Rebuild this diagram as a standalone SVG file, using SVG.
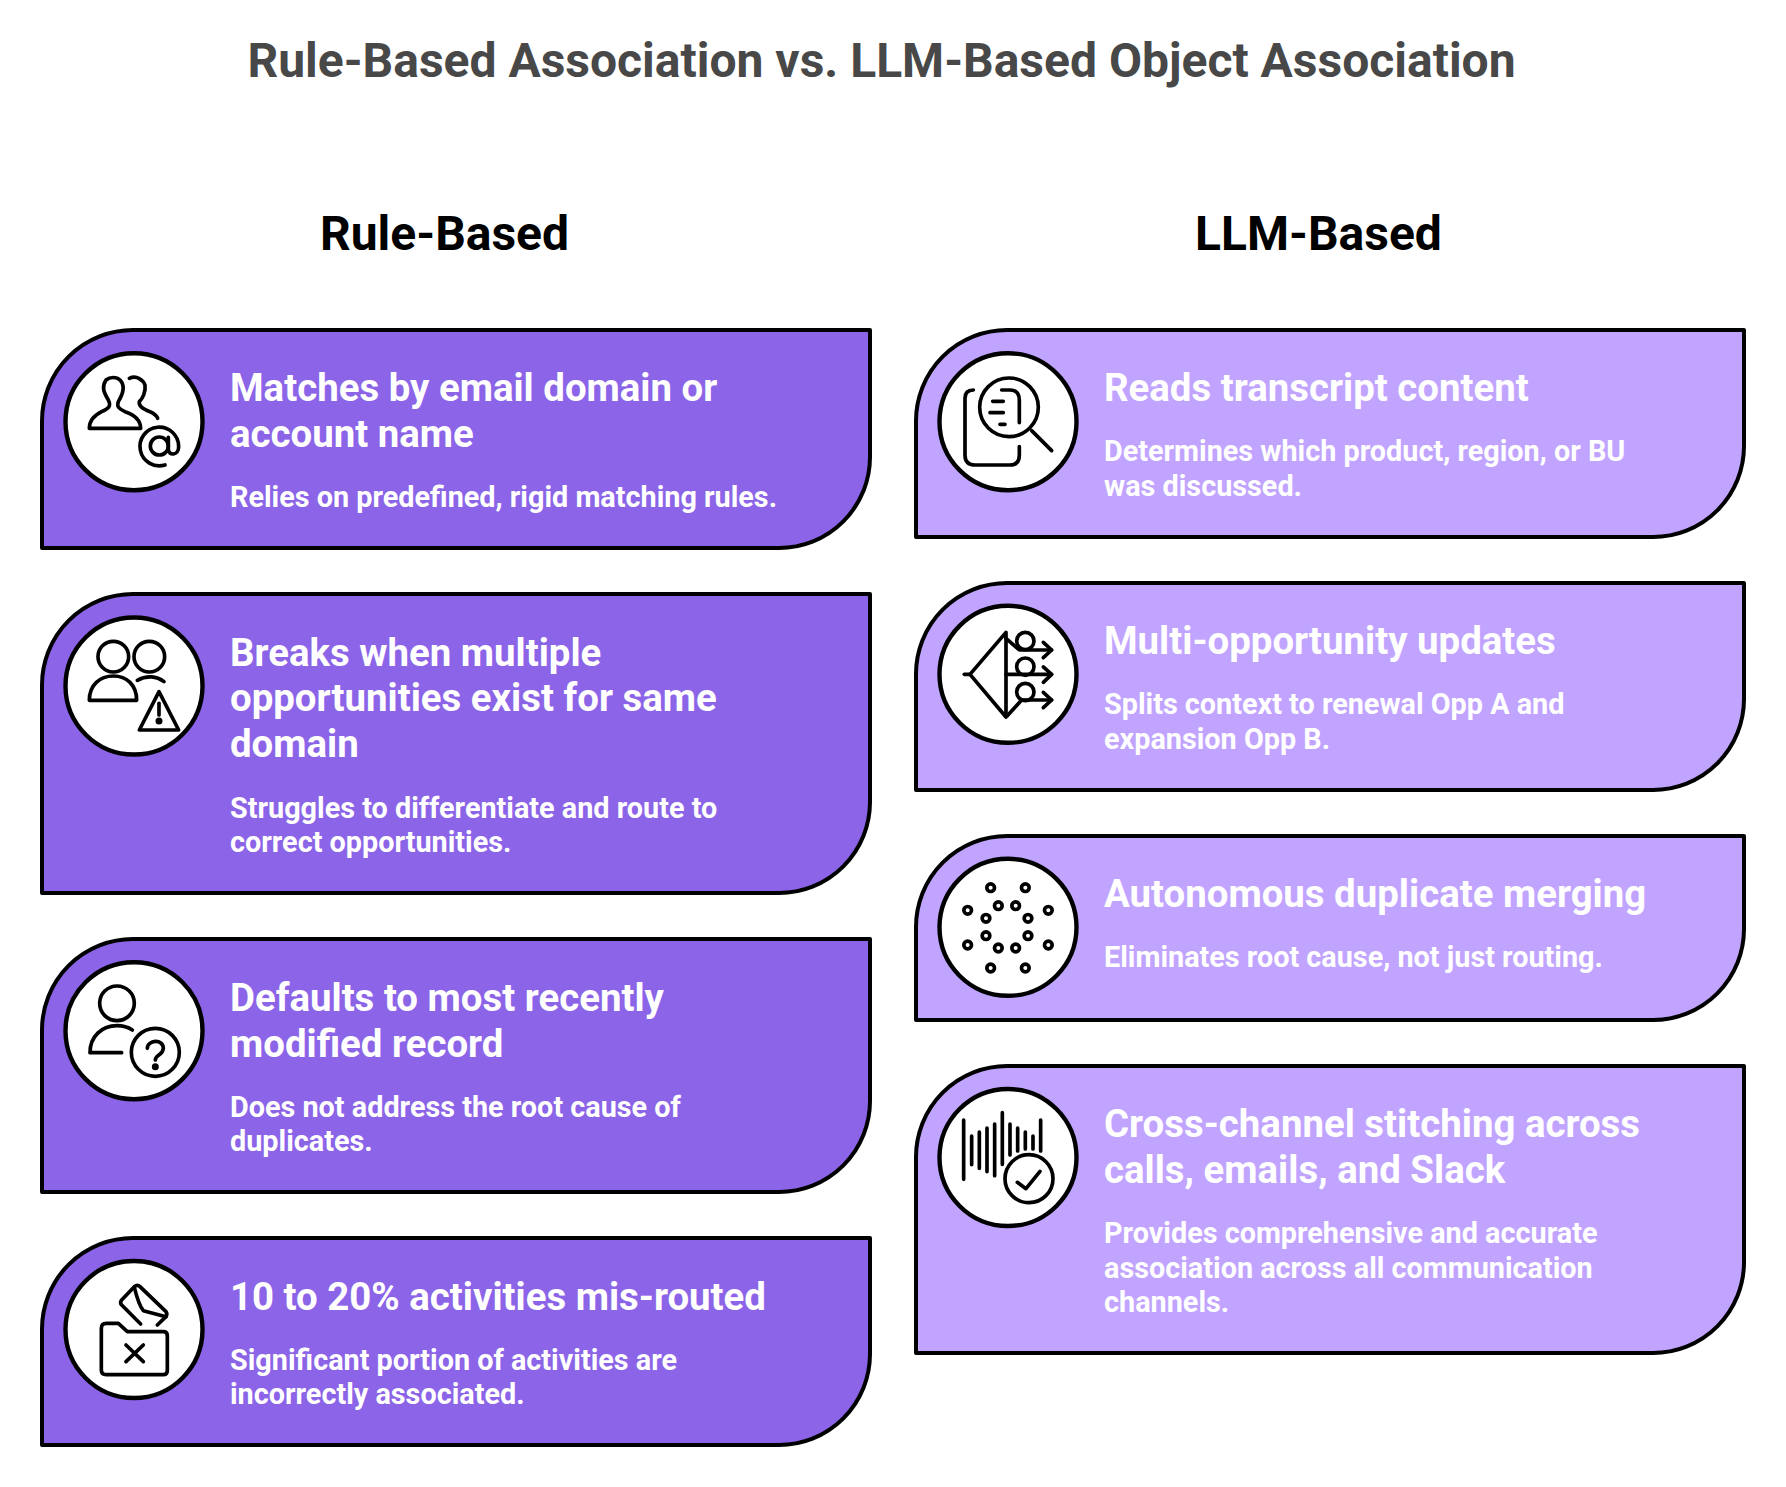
<svg xmlns="http://www.w3.org/2000/svg" width="1786" height="1487" viewBox="0 0 1786 1487">
<style>
text{font-family:Roboto,"Liberation Sans",sans-serif}
.title{font-size:48px;font-weight:700;fill:#484848;text-anchor:middle}
.col{font-size:48px;font-weight:700;fill:#000;text-anchor:middle}
.h{font-size:38.4px;font-weight:700;fill:#fff}
.d{font-size:28.8px;font-weight:700;fill:#fff}
.cl{fill:#8C64E8;stroke:#000;stroke-width:4;stroke-linejoin:round}
.cr{fill:#C1A4FF;stroke:#000;stroke-width:4;stroke-linejoin:round}
.o{fill:#fff;stroke:#000;stroke-width:4.4}
.i{fill:none;stroke:#000;stroke-width:11;stroke-linecap:round;stroke-linejoin:round}
.f{fill:#000}
</style>
<rect width="1786" height="1487" fill="#fff"/>
<text class="title" x="881.5" y="77">Rule-Based Association vs. LLM-Based Object Association</text>
<text class="col" x="444.5" y="249.5">Rule-Based</text>
<text class="col" x="1318.5" y="249.5">LLM-Based</text>

<g id="rule-1">
<path class="cl" d="M42 548V421A91 91 0 0 1 133 330H870V457A91 91 0 0 1 779 548Z"/>
<circle class="o" cx="134" cy="421.7" r="68.5"/>
<g class="i" transform="translate(40,330) scale(.3333)">
<path d="M148 295H302C302 270 285 255 255 245C235 235 230 230 235 215C250 190 255 165 240 150C230 140 210 140 198 150C185 170 190 185 205 210C215 230 205 235 185 245C165 255 148 270 148 295Z"/>
<path d="M268 145C290 135 310 150 315 165C318 185 308 205 298 215C295 230 310 238 330 245C340 250 350 255 353 265"/>
<circle cx="358" cy="348" r="27"/>
<path d="M375 405A58 58 0 1 1 416 350C416 378 385 378 385 358V322"/>
</g>
<text class="h" x="230" y="401">Matches by email domain or</text>
<text class="h" x="230" y="446.5">account name</text>
<text class="d" x="230" y="507">Relies on predefined, rigid matching rules.</text>
</g>

<g id="rule-2">
<path class="cl" d="M42 893V685A91 91 0 0 1 133 594H870V802A91 91 0 0 1 779 893Z"/>
<circle class="o" cx="134" cy="686" r="68.5"/>
<g class="i" transform="translate(40,595) scale(.3333)">
<circle cx="220" cy="185" r="46"/>
<circle cx="328" cy="185" r="46"/>
<path d="M148 316H290C290 270 260 243 220 243C180 243 148 270 148 316Z"/>
<path d="M292 256C320 240 350 243 372 260"/>
<path d="M357 290L298 405H416Z"/>
<path d="M357 325V360"/>
<circle class="f" cx="357" cy="378" r="5"/>
</g>
<text class="h" x="230" y="665.5">Breaks when multiple</text>
<text class="h" x="230" y="711.3">opportunities exist for same</text>
<text class="h" x="230" y="757.4">domain</text>
<text class="d" x="230" y="817.5">Struggles to differentiate and route to</text>
<text class="d" x="230" y="851.6">correct opportunities.</text>
</g>

<g id="rule-3">
<path class="cl" d="M42 1192V1030A91 91 0 0 1 133 939H870V1101A91 91 0 0 1 779 1192Z"/>
<circle class="o" cx="134" cy="1030.7" r="68.5"/>
<g class="i" transform="translate(40,940) scale(.3333)">
<circle cx="231" cy="190" r="52"/>
<path d="M245 338H150C150 290 185 257 231 257C250 257 265 262 277 270"/>
<circle cx="346" cy="337" r="72"/>
<path d="M322 325C322 300 370 295 370 325C370 345 346 345 346 360"/>
<circle class="f" cx="346" cy="380" r="5"/>
</g>
<text class="h" x="230" y="1011">Defaults to most recently</text>
<text class="h" x="230" y="1056.5">modified record</text>
<text class="d" x="230" y="1116.6">Does not address the root cause of</text>
<text class="d" x="230" y="1150.7">duplicates.</text>
</g>

<g id="rule-4">
<path class="cl" d="M42 1445V1329A91 91 0 0 1 133 1238H870V1354A91 91 0 0 1 779 1445Z"/>
<circle class="o" cx="134" cy="1329.5" r="68.5"/>
<g class="i" transform="translate(40,1240) scale(.3333)">
<path d="M184 265Q184 250 199 250H235L262 275H370Q382 275 382 287V392Q382 404 370 404H199Q184 404 184 390Z"/>
<path d="M258 315L310 365M310 315L258 365"/>
<path d="M302 252L243 193Q240 186 245 180L283 140Q292 132 300 140L378 215Q383 222 378 230L352 255"/>
<path d="M283 142C290 170 300 200 310 212L378 230"/>
</g>
<text class="h" x="230" y="1309.5">10 to 20% activities mis-routed</text>
<text class="d" x="230" y="1369.6">Significant portion of activities are</text>
<text class="d" x="230" y="1403.7">incorrectly associated.</text>
</g>

<g id="llm-1">
<path class="cr" d="M916 537V421A91 91 0 0 1 1007 330H1744V446A91 91 0 0 1 1653 537Z"/>
<circle class="o" cx="1008" cy="421.7" r="68.5"/>
<g class="i" transform="translate(920,330) scale(.3333)">
<circle cx="267" cy="232" r="88"/>
<path d="M335 302L395 362"/>
<path d="M160 180Q135 180 135 205V375Q135 405 165 405H270Q298 405 298 375V350"/>
<path d="M245 180H270Q298 180 298 210V278"/>
<path d="M218 214H250M210 248H250M240 283H255"/>
</g>
<text class="h" x="1104" y="401">Reads transcript content</text>
<text class="d" x="1104" y="461">Determines which product, region, or BU</text>
<text class="d" x="1104" y="495.6">was discussed.</text>
</g>

<g id="llm-2">
<path class="cr" d="M916 790V674A91 91 0 0 1 1007 583H1744V699A91 91 0 0 1 1653 790Z"/>
<circle class="o" cx="1008" cy="674.3" r="68.5"/>
<g class="i" transform="translate(920,585) scale(.3333)">
<path d="M258 142L150 268L258 396Z"/>
<path d="M133 268H150"/>
<path d="M258 268H395M258 160L298 195H395M262 392L305 345H395"/>
<path d="M370 172L395 195L370 218M370 246L395 268L370 292M370 322L395 345L370 368"/>
<circle cx="316" cy="168" r="26"/>
<circle cx="316" cy="245" r="26"/>
<circle cx="316" cy="321" r="26"/>
</g>
<text class="h" x="1104" y="654">Multi-opportunity updates</text>
<text class="d" x="1104" y="714">Splits context to renewal Opp A and</text>
<text class="d" x="1104" y="748.6">expansion Opp B.</text>
</g>

<g id="llm-3">
<path class="cr" d="M916 1020V927A91 91 0 0 1 1007 836H1744V929A91 91 0 0 1 1653 1020Z"/>
<circle class="o" cx="1008" cy="927.3" r="68.5"/>
<g class="i" transform="translate(920,840) scale(.3333)" style="stroke-width:11">
<circle cx="212" cy="143" r="11.5"/><circle cx="316" cy="143" r="11.5"/>
<circle cx="143" cy="211" r="11.5"/><circle cx="235" cy="197" r="11.5"/>
<circle cx="287" cy="197" r="11.5"/><circle cx="385" cy="211" r="11.5"/>
<circle cx="198" cy="235" r="11.5"/><circle cx="324" cy="235" r="11.5"/>
<circle cx="198" cy="287" r="11.5"/><circle cx="324" cy="287" r="11.5"/>
<circle cx="143" cy="315" r="11.5"/><circle cx="385" cy="315" r="11.5"/>
<circle cx="235" cy="324" r="11.5"/><circle cx="287" cy="324" r="11.5"/>
<circle cx="212" cy="384" r="11.5"/><circle cx="316" cy="384" r="11.5"/>
</g>
<text class="h" x="1104" y="907">Autonomous duplicate merging</text>
<text class="d" x="1104" y="967">Eliminates root cause, not just routing.</text>
</g>

<g id="llm-4">
<path class="cr" d="M916 1353V1157A91 91 0 0 1 1007 1066H1744V1262A91 91 0 0 1 1653 1353Z"/>
<circle class="o" cx="1008" cy="1157.5" r="68.5"/>
<g class="i" transform="translate(920,1070) scale(.3333)">
<path d="M131 150V328M155 198V284M178 186V295M201 174V305M224 162V317M247 128V283M270 162V255M293 174V243M316 186V237M339 198V237M362 150V243"/>
<circle cx="327" cy="326" r="72"/>
<path d="M292 337L318 356L360 304"/>
</g>
<text class="h" x="1104" y="1137">Cross-channel stitching across</text>
<text class="h" x="1104" y="1182.5">calls, emails, and Slack</text>
<text class="d" x="1104" y="1243">Provides comprehensive and accurate</text>
<text class="d" x="1104" y="1277.6">association across all communication</text>
<text class="d" x="1104" y="1311.7">channels.</text>
</g>
</svg>
